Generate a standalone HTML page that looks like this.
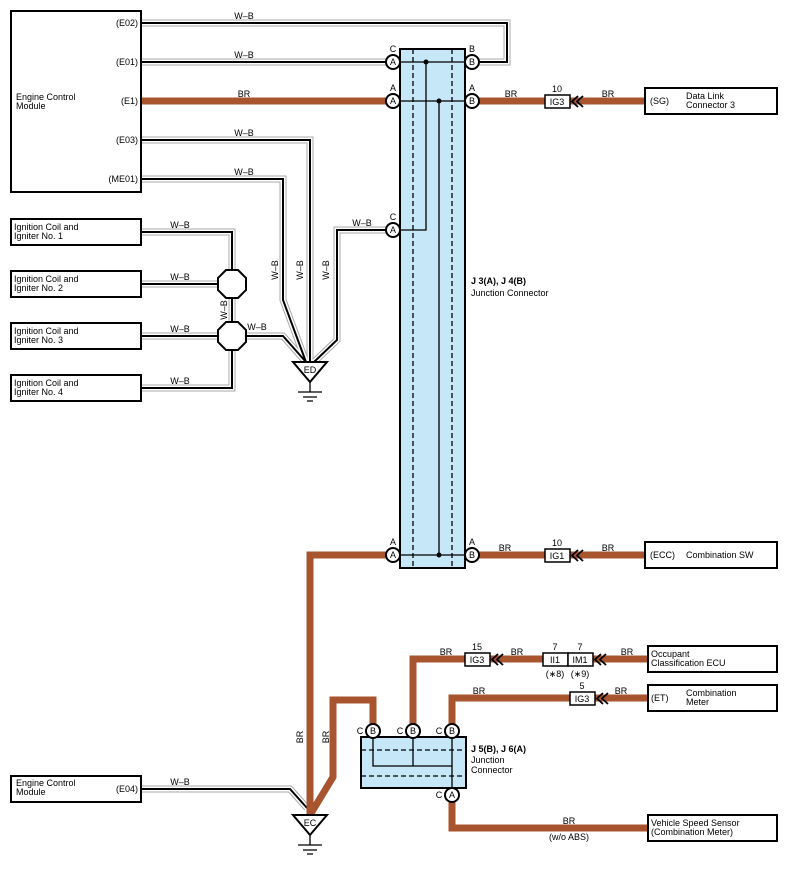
<!DOCTYPE html><html><head><style>body{margin:0;background:#fff}svg{display:block;font-family:"Liberation Sans",sans-serif}
.g{stroke:#aaa;stroke-width:7}.w{stroke:#fff;stroke-width:5}.k{stroke:#000;stroke-width:2}
.br{fill:none;stroke:#a8552f;stroke-width:7}
text{font-size:9px}.bx{fill:#fff;stroke:#000;stroke-width:2}
</style></head><body>
<svg width="787" height="869" viewBox="0 0 787 869">
<defs>
<g id="wires" fill="none">
<path fill="none" d="M141,23H507V62H479"/>
<path fill="none" d="M141,62H386"/>
<path fill="none" d="M141,140H310V362"/>
<path fill="none" d="M141,179H283V300L306,362"/>
<path fill="none" d="M386,230H337V340L314,362"/>
<path fill="none" d="M141,232H232V350"/>
<path fill="none" d="M232,350V388H141"/>
<path fill="none" d="M141,284H220"/>
<path fill="none" d="M141,336H220"/>
<path fill="none" d="M244,336H283L306,362"/>
<path fill="none" d="M141,789H290L307,808"/>
</g>
</defs>
<use href="#wires" class="g"/>
<use href="#wires" class="w"/>
<use href="#wires" class="k"/>
<!-- BR wires -->
<g class="br">
<path d="M141,101H386"/>
<path d="M479,101H645"/>
<path d="M479,555H645"/>
<path d="M386,555H310V815"/>
<path d="M310,815L333,777V700H373V725"/>
<path d="M413,725V659H648"/>
<path d="M452,725V698H648"/>
<path d="M452,801V828H648"/>
</g>
<!-- junction J3/J4 -->
<rect x="400" y="49" width="65" height="519" fill="#c6e7f7" stroke="#000" stroke-width="2"/>
<line x1="413" y1="49" x2="413" y2="568" stroke="#000" stroke-width="1.3" stroke-dasharray="5,3"/>
<line x1="452" y1="49" x2="452" y2="568" stroke="#000" stroke-width="1.3" stroke-dasharray="5,3"/>
<g stroke="#000" stroke-width="1.3" fill="none">
<path d="M400,62H465M426,62V230H400M400,101H465M439,101V555M400,555H465"/>
</g>
<g fill="#000"><circle cx="426" cy="62" r="2.5"/><circle cx="439" cy="101" r="2.5"/><circle cx="439" cy="555" r="2.5"/><circle cx="413" cy="766" r="2.5"/><circle cx="452" cy="766" r="2.5"/></g>
<!-- J5/J6 -->
<rect x="361" y="737" width="105" height="51" fill="#c6e7f7" stroke="#000" stroke-width="2"/>
<line x1="361" y1="750" x2="466" y2="750" stroke="#000" stroke-width="1.3" stroke-dasharray="5,3"/>
<line x1="361" y1="776" x2="466" y2="776" stroke="#000" stroke-width="1.3" stroke-dasharray="5,3"/>
<path d="M373,731V766H452M413,731V766M452,731V794" stroke="#000" stroke-width="1.3" fill="none"/>
<!-- circles -->
<g stroke="#000" stroke-width="2" fill="#fff">
<circle cx="393" cy="62" r="7"/><circle cx="472" cy="62" r="7"/>
<circle cx="393" cy="101" r="7"/><circle cx="472" cy="101" r="7"/>
<circle cx="393" cy="230" r="7"/>
<circle cx="393" cy="555" r="7"/><circle cx="472" cy="555" r="7"/>
<circle cx="373" cy="731" r="7"/><circle cx="413" cy="731" r="7"/><circle cx="452" cy="731" r="7"/>
<circle cx="452" cy="795" r="7"/>
</g>
<g font-size="9" text-anchor="middle">
<text x="393" y="65">A</text><text x="472" y="65">B</text><text x="393" y="104">A</text><text x="472" y="104">B</text><text x="393" y="233">A</text><text x="393" y="558">A</text><text x="472" y="558">B</text>
<text x="373" y="734">B</text><text x="413" y="734">B</text><text x="452" y="734">B</text><text x="452" y="798">A</text>
<text x="393" y="52">C</text><text x="472" y="52">B</text><text x="393" y="91">A</text><text x="472" y="91">A</text><text x="393" y="220">C</text><text x="393" y="545">A</text><text x="472" y="545">A</text>
<text x="360" y="734">C</text><text x="400" y="734">C</text><text x="439" y="734">C</text><text x="439" y="798">C</text>
</g>
<!-- octagons -->
<g fill="#fff" stroke="#000" stroke-width="2">
<polygon points="226,270 238,270 246,278 246,290 238,298 226,298 218,290 218,278"/>
<polygon points="226,322 238,322 246,330 246,342 238,350 226,350 218,342 218,330"/>
</g>
<!-- grounds -->
<g stroke="#000" stroke-width="2" fill="#fff">
<polygon points="293,362 327,362 310,382"/>
<polygon points="293,815 327,815 310,835"/>
</g>
<path d="M310,382V392M298,392H322M303,397H317M307,401H313M310,835V845M298,845H322M303,850H317M307,854H313" stroke="#000" stroke-width="1.3"/>
<text x="310" y="373" text-anchor="middle">ED</text><text x="310" y="826" text-anchor="middle">EC</text>
<!-- boxes -->
<rect class="bx" x="11" y="11" width="130" height="181"/>
<rect class="bx" x="11" y="219" width="130" height="26"/>
<rect class="bx" x="11" y="271" width="130" height="26"/>
<rect class="bx" x="11" y="323" width="130" height="26"/>
<rect class="bx" x="11" y="375" width="130" height="26"/>
<rect class="bx" x="11" y="776" width="130" height="26"/>
<rect class="bx" x="645" y="88" width="132" height="26"/>
<rect class="bx" x="645" y="542" width="132" height="26"/>
<rect class="bx" x="648" y="646" width="129" height="26"/>
<rect class="bx" x="648" y="685" width="129" height="26"/>
<rect class="bx" x="648" y="815" width="129" height="26"/>
<!-- connector small boxes -->
<g fill="#fff" stroke="#000" stroke-width="1.5">
<rect x="545" y="95" width="25" height="13"/><rect x="545" y="549" width="25" height="13"/>
<rect x="465" y="653" width="25" height="13"/><rect x="543" y="653" width="25" height="13"/><rect x="568" y="653" width="25" height="13"/>
<rect x="570" y="692" width="25" height="13"/>
</g>
<g fill="none" stroke="#000" stroke-width="1.8">
<path d="M578,96L572,101.5L578,107M583,96L577,101.5L583,107"/>
<path d="M578,550L572,555.5L578,561M583,550L577,555.5L583,561"/>
<path d="M498,654L492,659.5L498,665M503,654L497,659.5L503,665"/>
<path d="M601,654L595,659.5L601,665M606,654L600,659.5L606,665"/>
<path d="M603,693L597,698.5L603,704M608,693L602,698.5L608,704"/>
</g>
<g text-anchor="middle">
<text x="557" y="105">IG3</text><text x="557" y="92">10</text>
<text x="557" y="559">IG1</text><text x="557" y="546">10</text>
<text x="477" y="663">IG3</text><text x="477" y="650">15</text>
<text x="555" y="663">II1</text><text x="555" y="650">7</text><text x="555" y="677">(∗8)</text>
<text x="580" y="663">IM1</text><text x="580" y="650">7</text><text x="580" y="677">(∗9)</text>
<text x="582" y="702">IG3</text><text x="582" y="689">5</text>
</g>
<!-- labels -->
<g text-anchor="end">
<text x="138" y="26">(E02)</text><text x="138" y="65">(E01)</text><text x="138" y="104">(E1)</text><text x="138" y="143">(E03)</text><text x="138" y="182">(ME01)</text><text x="138" y="792">(E04)</text>
</g>
<text x="16" y="100">Engine Control</text><text x="16" y="109">Module</text>
<text x="16" y="786">Engine Control</text><text x="16" y="795">Module</text>
<text x="14" y="230">Ignition Coil and</text><text x="14" y="239">Igniter No. 1</text>
<text x="14" y="282">Ignition Coil and</text><text x="14" y="291">Igniter No. 2</text>
<text x="14" y="334">Ignition Coil and</text><text x="14" y="343">Igniter No. 3</text>
<text x="14" y="386">Ignition Coil and</text><text x="14" y="395">Igniter No. 4</text>
<text x="650" y="104">(SG)</text><text x="686" y="99">Data Link</text><text x="686" y="108">Connector 3</text>
<text x="650" y="558">(ECC)</text><text x="686" y="558">Combination SW</text>
<text x="651" y="657">Occupant</text><text x="651" y="666">Classification ECU</text>
<text x="651" y="701">(ET)</text><text x="686" y="696">Combination</text><text x="686" y="705">Meter</text>
<text x="651" y="826">Vehicle Speed Sensor</text><text x="651" y="835">(Combination Meter)</text>
<text x="471" y="284" font-weight="bold">J 3(A), J 4(B)</text><text x="471" y="296">Junction Connector</text>
<text x="471" y="752" font-weight="bold">J 5(B), J 6(A)</text><text x="471" y="763">Junction</text><text x="471" y="773">Connector</text>
<g text-anchor="middle">
<text x="244" y="19">W–B</text><text x="244" y="58">W–B</text><text x="244" y="97">BR</text><text x="244" y="136">W–B</text><text x="244" y="175">W–B</text>
<text x="180" y="228">W–B</text><text x="180" y="280">W–B</text><text x="180" y="332">W–B</text><text x="180" y="384">W–B</text><text x="257" y="330">W–B</text>
<text x="362" y="226">W–B</text><text x="180" y="785">W–B</text>
<text x="511" y="97">BR</text><text x="608" y="97">BR</text><text x="505" y="551">BR</text><text x="608" y="551">BR</text>
<text x="446" y="655">BR</text><text x="517" y="655">BR</text><text x="627" y="655">BR</text>
<text x="479" y="694">BR</text><text x="621" y="694">BR</text>
<text x="569" y="824">BR</text><text x="569" y="840">(w/o ABS)</text>
</g>
<g text-anchor="middle">
<text transform="translate(278,270) rotate(-90)">W–B</text>
<text transform="translate(303,270) rotate(-90)">W–B</text>
<text transform="translate(329,270) rotate(-90)">W–B</text>
<text transform="translate(227,310) rotate(-90)">W–B</text>
<text transform="translate(303,737) rotate(-90)">BR</text>
<text transform="translate(329,737) rotate(-90)">BR</text>
</g>
</svg>
</body></html>
